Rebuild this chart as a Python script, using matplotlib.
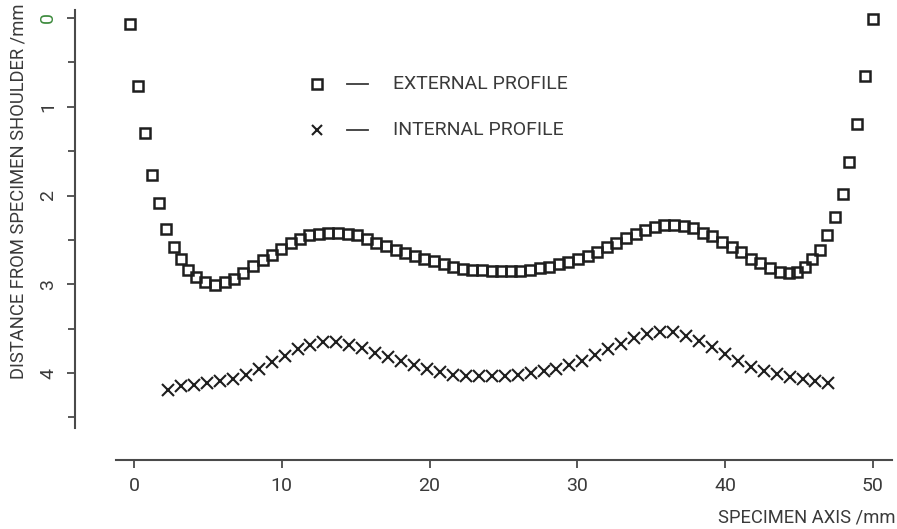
import matplotlib
matplotlib.use("Agg")
import matplotlib.pyplot as plt
from matplotlib.lines import Line2D
from matplotlib.ticker import MultipleLocator

plt.rcParams['font.family'] = ['Roboto', 'DejaVu Sans']

# External profile (squares)
ext_x = [-0.27, 0.27, 0.74, 1.22, 1.69, 2.17, 2.7, 3.18, 3.65, 4.2, 4.8, 5.5, 6.16, 6.75,
         7.4, 8.05, 8.7, 9.35, 9.95, 10.6, 11.2, 11.85, 12.5, 13.15, 13.8, 14.45, 15.1,
         15.75, 16.4, 17.05, 17.7, 18.35, 19.0, 19.65, 20.3, 20.95, 21.6, 22.25, 22.9,
         23.55, 24.2, 24.85, 25.5, 26.15, 26.8, 27.45, 28.1, 28.75, 29.4, 30.05, 30.7,
         31.35, 32.0, 32.65, 33.3, 33.95, 34.6, 35.25, 35.9, 36.55, 37.2, 37.85, 38.5,
         39.15, 39.8, 40.45, 41.1, 41.75, 42.4, 43.05, 43.7, 44.3, 44.9, 45.4, 45.9,
         46.4, 46.9, 47.45, 47.97, 48.4, 48.9, 49.46, 50.0]
ext_y = [0.07, 0.77, 1.30, 1.77, 2.08, 2.38, 2.58, 2.72, 2.84, 2.92, 2.98, 3.01, 2.98, 2.94,
         2.87, 2.79, 2.73, 2.67, 2.60, 2.54, 2.49, 2.45, 2.43, 2.42, 2.42, 2.43, 2.45,
         2.49, 2.53, 2.57, 2.61, 2.65, 2.68, 2.71, 2.74, 2.77, 2.80, 2.83, 2.84,
         2.84, 2.85, 2.85, 2.85, 2.85, 2.84, 2.82, 2.80, 2.77, 2.75, 2.72, 2.68,
         2.64, 2.58, 2.53, 2.48, 2.43, 2.39, 2.35, 2.33, 2.33, 2.34, 2.37, 2.42,
         2.46, 2.52, 2.58, 2.64, 2.71, 2.76, 2.82, 2.86, 2.87, 2.86, 2.80, 2.72,
         2.61, 2.44, 2.24, 1.98, 1.62, 1.19, 0.65, 0.01]

# Internal profile (crosses)
int_x = [2.30, 3.18, 4.05, 4.93, 5.81, 6.68, 7.56, 8.44, 9.31, 10.19, 11.07, 11.94, 12.82,
         13.70, 14.57, 15.45, 16.32, 17.20, 18.08, 18.95, 19.83, 20.71, 21.58, 22.46,
         23.34, 24.21, 25.09, 25.97, 26.84, 27.72, 28.59, 29.47, 30.35, 31.22, 32.10,
         32.98, 33.85, 34.73, 35.61, 36.48, 37.36, 38.24, 39.11, 39.99, 40.87, 41.74,
         42.62, 43.50, 44.37, 45.25, 46.12, 47.00]
int_y = [4.19, 4.15, 4.13, 4.11, 4.09, 4.07, 4.02, 3.96, 3.88, 3.81, 3.73, 3.68, 3.65,
         3.65, 3.68, 3.72, 3.77, 3.82, 3.87, 3.91, 3.96, 3.99, 4.02, 4.03,
         4.03, 4.03, 4.03, 4.02, 4.00, 3.98, 3.95, 3.91, 3.86, 3.80, 3.73,
         3.67, 3.61, 3.56, 3.54, 3.54, 3.58, 3.64, 3.71, 3.79, 3.86, 3.93,
         3.98, 4.01, 4.04, 4.07, 4.09, 4.11]

x_ticks = [0, 10, 20, 30, 40, 50]
y_ticks = [0, 1, 2, 3, 4]
legend_labels = ["EXTERNAL PROFILE", "INTERNAL PROFILE"]

W, H = 897, 529
fig = plt.figure(figsize=(W / 100, H / 100), dpi=100)
ax = fig.add_axes([116 / W, 1 - 460 / H, (892 - 116) / W, (460 - 10) / H])

ink = '#1e1e1e'
txt = '#3a3a3a'
axc = '#4a4a4a'

ax.plot(ext_x, ext_y, linestyle='none', marker='s', ms=7.5, mfc='none', mec=ink, mew=1.8)
ax.plot(int_x, int_y, linestyle='none', marker='x', ms=9, mec=ink, mew=1.5)

ax.set_xlim(-1.22, 51.3)
ax.set_ylim(4.98, -0.09)

for s in ['top', 'right']:
    ax.spines[s].set_visible(False)
ax.spines['bottom'].set_color(axc)
ax.spines['bottom'].set_linewidth(1.5)
ax.spines['left'].set_color(axc)
ax.spines['left'].set_linewidth(1.5)
ax.spines['left'].set_position(('outward', 41 * 0.72))
ax.spines['left'].set_bounds(-0.09, 4.62)

ax.set_xticks(x_ticks)
ax.set_xticklabels([str(v) for v in x_ticks], fontsize=14, color=txt)
ax.set_yticks(y_ticks)
ax.set_yticklabels([str(v) for v in y_ticks], fontsize=14, color=txt, rotation=90, va='center')
ax.yaxis.set_minor_locator(MultipleLocator(0.5))
ax.tick_params(axis='x', direction='out', length=6, width=1.3, color=axc, pad=6)
ax.tick_params(axis='y', which='major', direction='out', length=6, width=1.3, color=axc, pad=7)
ax.tick_params(axis='y', which='minor', direction='out', length=5, width=1.3, color=axc)
ax.get_yticklabels()[0].set_color('#3c8a3c')

fig.text(19 / W, 1 - 191 / H, "DISTANCE FROM SPECIMEN SHOULDER /mm", rotation=90,
         ha='center', va='center', fontsize=13.2, color=txt)
fig.text(895 / W, 1 - 518 / H, "SPECIMEN AXIS /mm", ha='right', va='center',
         fontsize=13.2, color=txt)

# legend
leg_rows = [(84, 's', legend_labels[0]), (130, 'x', legend_labels[1])]
for yy, mk, lab in leg_rows:
    fy = 1 - yy / H
    if mk == 's':
        fig.add_artist(Line2D([317 / W], [fy], marker='s', ms=7, mfc='none', mec=ink, mew=1.8,
                              linestyle='none', transform=fig.transFigure))
    else:
        fig.add_artist(Line2D([317 / W], [fy], marker='x', ms=6.5, mec=ink, mew=1.5,
                              linestyle='none', transform=fig.transFigure))
    fig.add_artist(Line2D([347 / W, 368 / W], [fy, fy], color=txt, lw=1.3,
                          transform=fig.transFigure))
    fig.text(393 / W, fy, lab, ha='left', va='center', fontsize=14, color=txt)

fig.savefig("out.png", dpi=100)
